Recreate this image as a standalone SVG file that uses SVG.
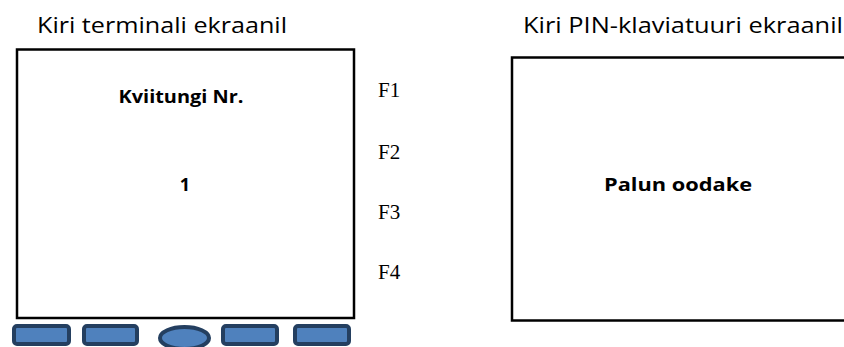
<svg xmlns="http://www.w3.org/2000/svg" width="844" height="347" viewBox="0 0 844 347">
<style>
.title{font-family:"Open Sans","Noto Sans",sans-serif;font-size:22px;fill:#000}
.bold{font-family:"Open Sans","Noto Sans",sans-serif;font-size:18px;font-weight:bold;fill:#000;text-anchor:middle}
.fkey{font-family:"Liberation Serif","Times New Roman",serif;font-size:21px;fill:#000}
.screen{fill:#fff;stroke:#000;stroke-width:2.5}
.btn{fill:#4f81bd;stroke:#243f60;stroke-width:4}
</style>
<rect width="844" height="347" fill="#fff"/>
<g id="terminal">
<text class="title" x="37" y="33" textLength="250" lengthAdjust="spacingAndGlyphs">Kiri terminali ekraanil</text>
<rect class="screen" x="17" y="49.5" width="337" height="268.5"/>
<text class="bold" x="181" y="103" textLength="125" lengthAdjust="spacingAndGlyphs">Kviitungi Nr.</text>
<text class="bold" x="185" y="191">1</text>
</g>
<g id="fkeys">
<text class="fkey" x="378" y="97">F1</text>
<text class="fkey" x="378" y="159">F2</text>
<text class="fkey" x="378" y="219">F3</text>
<text class="fkey" x="378" y="279">F4</text>
</g>
<g id="buttons">
<rect class="btn" x="14" y="326" width="55" height="18" rx="3"/>
<rect class="btn" x="84" y="326" width="53" height="18" rx="3"/>
<ellipse class="btn" cx="184.5" cy="338" rx="24.5" ry="11"/>
<rect class="btn" x="223" y="326" width="54" height="18" rx="3"/>
<rect class="btn" x="295" y="326" width="54" height="18" rx="3"/>
</g>
<g id="pinpad">
<text class="title" x="523" y="33" textLength="320" lengthAdjust="spacingAndGlyphs">Kiri PIN-klaviatuuri ekraanil</text>
<rect class="screen" x="512" y="57.5" width="340" height="263"/>
<text class="bold" x="678" y="191" textLength="148" lengthAdjust="spacingAndGlyphs">Palun oodake</text>
</g>
<g id="connectors"/>
</svg>
